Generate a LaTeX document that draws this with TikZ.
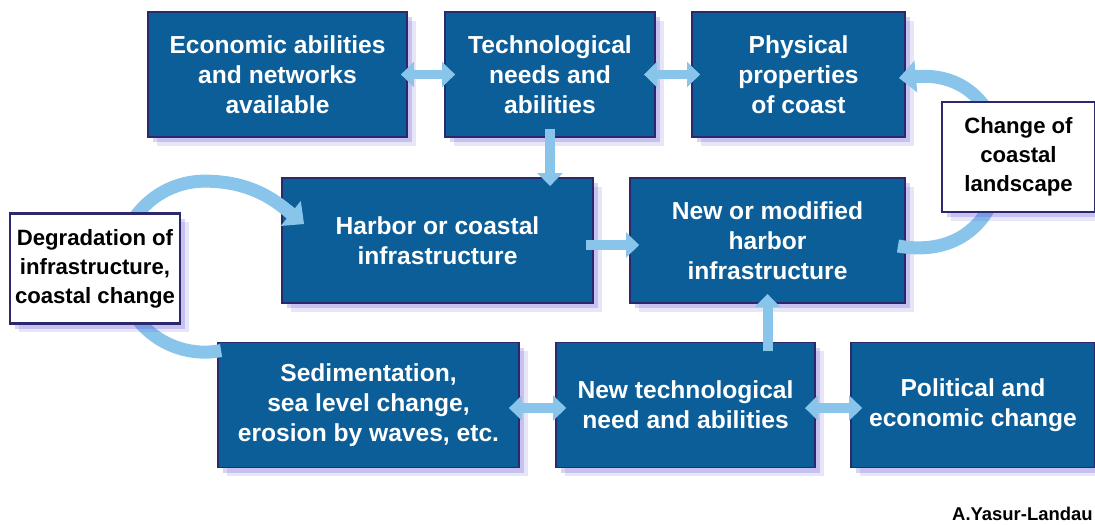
\documentclass[tikz,border=0pt]{standalone}
\usepackage{fontspec}
\setmainfont{Liberation Sans}
\usetikzlibrary{arrows.meta,shadows,positioning}
\definecolor{boxblue}{RGB}{12,94,152}
\definecolor{boxline}{RGB}{44,40,108}
\definecolor{arrowblue}{RGB}{137,197,235}
\definecolor{shadowblue}{RGB}{96,84,210}

\begin{document}
\begin{tikzpicture}[x=0.02cm,y=-0.02cm,
	stage/.style={draw=boxline, line width=1.1pt, fill=boxblue, text=white, align=center, inner sep=0pt,
		font=\bfseries\fontsize{14}{17}\selectfont, minimum height=2.5cm,
		general shadow={shadow xshift=3pt, shadow yshift=-3pt, fill=shadowblue, opacity=.25},
		general shadow={shadow xshift=5pt, shadow yshift=-5pt, fill=shadowblue, opacity=.15}},
	note/.style={stage, fill=white, text=black, minimum height=2.2cm, line width=1.3pt,
		font=\bfseries\fontsize{12.6}{16.5}\selectfont},
	flow/.style={draw=arrowblue, line width=0.2cm, -{Triangle[width=0.5cm,length=0.26cm]}},
	twoway/.style={flow, {Triangle[width=0.5cm,length=0.26cm]}-{Triangle[width=0.5cm,length=0.26cm]}},
	roundflow/.style={flow, line width=0.26cm, -{Triangle[width=0.62cm,length=0.34cm]}}]
	\useasboundingbox (0,0) rectangle (1095,524);
	\node[stage, minimum width=5.18cm] (econ) at (277.5,74.5) {Economic abilities\\and networks\\available};
	\node[stage, minimum width=4.2cm] (tech) at (550,74.5) {Technological\\needs and\\abilities};
	\node[stage, minimum width=4.26cm] (phys) at (798.5,74.5) {Physical\\properties\\of coast};
	\node[stage, minimum width=6.22cm] (harbor) at (437.5,240.5) {Harbor or coastal\\infrastructure};
	\node[stage, minimum width=5.5cm] (newharbor) at (767.5,240.5) {New or modified\\harbor\\infrastructure};
	\node[stage, minimum width=6.02cm] (sediment) at (368.5,405) {Sedimentation,\\sea level change,\\erosion by waves, etc.};
	\node[stage, minimum width=5.18cm] (newtech) at (685.5,405) {New technological\\need and abilities};
	\node[stage, minimum width=4.88cm] (politics) at (973,405) {Political and\\economic change};
	\coordinate (techdrop) at (tech.south |- harbor.north);
	\coordinate (riseroot) at (newharbor.south |- newtech.north);
	\draw[twoway] ([xshift=-0.14cm]econ.east) -- ([xshift=0.22cm]tech.west);
	\draw[twoway] ([xshift=-0.24cm]tech.east) -- ([xshift=0.18cm]phys.west);
	\draw[flow] ([yshift=0.18cm]tech.south) -- ([yshift=-0.18cm]techdrop);
	\draw[flow] ([xshift=-0.16cm,yshift=-0.09cm]harbor.east) -- ([xshift=0.2cm,yshift=-0.09cm]newharbor.west);
	\draw[flow] ([yshift=-0.18cm]riseroot) -- ([yshift=0.2cm]newharbor.south);
	\draw[twoway] ([xshift=-0.22cm,yshift=-0.06cm]sediment.east) -- ([xshift=0.22cm,yshift=-0.06cm]newtech.west);
	\draw[twoway] ([xshift=-0.22cm,yshift=-0.06cm]newtech.east) -- ([xshift=0.24cm,yshift=-0.06cm]politics.west);
	\draw[roundflow] ([xshift=-0.16cm,yshift=-0.11cm]newharbor.east) .. controls +(-10:2.7cm) and +(5:2.7cm) .. ([xshift=-0.14cm,yshift=-0.07cm]phys.east);
	\draw[roundflow] ([xshift=0.08cm,yshift=-0.18cm]sediment.north west) arc[start angle=-79, end angle=-270, radius=1.71cm]
		.. controls +(1cm,0) and +(-0.5cm,0.4cm) .. ([xshift=0.46cm,yshift=-0.94cm]harbor.north west);
	\node[note, minimum width=3.06cm] (landscape) at (1018.5,157) {Change of\\coastal\\landscape};
	\node[note, minimum width=3.4cm] (degradation) at (95,268.5) {Degradation of\\infrastructure,\\coastal change};
	\node[anchor=east, inner sep=0pt, font=\bfseries\fontsize{10.5}{12}\selectfont] (credit) at (1093,514) {A.Yasur-Landau};
\end{tikzpicture}
\end{document}
